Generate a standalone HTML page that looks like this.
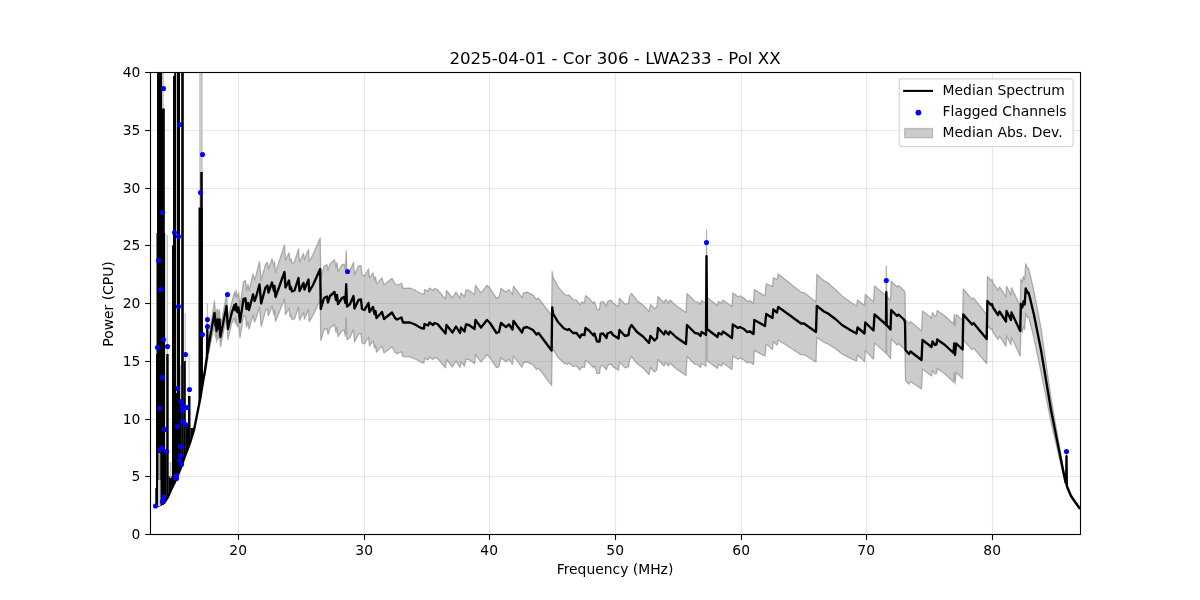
<!DOCTYPE html>
<html><head><meta charset="utf-8"><title>Spectrum</title>
<style>
html,body{margin:0;padding:0;background:#fff;}
body{width:1200px;height:600px;overflow:hidden;}
svg{display:block}
text{font-family:"DejaVu Sans","Liberation Sans",sans-serif;fill:#000}
.t{font-size:13.89px}
.ti{font-size:16.67px}
</style></head><body>
<svg width="1200" height="600" viewBox="0 0 1200 600">
<rect width="1200" height="600" fill="#fff"/>
<defs><clipPath id="c"><rect x="150" y="72" width="930" height="462"/></clipPath></defs>
<g stroke="#b0b0b0" stroke-opacity="0.3" stroke-width="1.11"><line x1="238.50" x2="238.50" y1="72" y2="534"/><line x1="364.50" x2="364.50" y1="72" y2="534"/><line x1="489.50" x2="489.50" y1="72" y2="534"/><line x1="615.50" x2="615.50" y1="72" y2="534"/><line x1="741.50" x2="741.50" y1="72" y2="534"/><line x1="866.50" x2="866.50" y1="72" y2="534"/><line x1="992.50" x2="992.50" y1="72" y2="534"/><line x1="150" x2="1080" y1="534.50" y2="534.50"/><line x1="150" x2="1080" y1="476.50" y2="476.50"/><line x1="150" x2="1080" y1="419.50" y2="419.50"/><line x1="150" x2="1080" y1="361.50" y2="361.50"/><line x1="150" x2="1080" y1="303.50" y2="303.50"/><line x1="150" x2="1080" y1="245.50" y2="245.50"/><line x1="150" x2="1080" y1="188.50" y2="188.50"/><line x1="150" x2="1080" y1="130.50" y2="130.50"/><line x1="150" x2="1080" y1="72.50" y2="72.50"/></g>
<g clip-path="url(#c)">
<clipPath id="bl"><polygon points="150.0,60.0 150.0,507.5 155.0,507.0 160.0,506.0 164.0,504.0 168.0,498.0 171.0,491.0 175.0,483.0 180.0,471.0 185.0,457.0 190.0,444.0 194.0,431.0 200.0,401.0 205.0,371.0 208.0,351.0 210.5,336.0 214.5,314.0 214.5,60.0"/></clipPath><rect x="162.0" y="60.0" width="1.8" height="48.5" fill="#c4c4c4"/><rect x="199.2" y="60.0" width="3.6" height="112.0" fill="#c8c8c8"/><rect x="199.2" y="172.0" width="1.0" height="35.5" fill="#c8c8c8"/><rect x="166.6" y="235.0" width="1.4" height="119.0" fill="#c0c0c0"/><rect x="184.6" y="313.0" width="1.2" height="48.0" fill="#c4c4c4"/><rect x="188.6" y="354.0" width="1.0" height="42.0" fill="#c4c4c4"/><rect x="176.0" y="60.0" width="1.0" height="340.0" fill="#bdbdbd"/><rect x="206.7" y="303.0" width="1.2" height="27.0" fill="#c0c0c0"/><rect x="180.0" y="365.0" width="1.2" height="35.0" fill="#bdbdbd"/><rect x="165.0" y="233.0" width="1.2" height="217.0" fill="#d8d8d8"/><polygon points="205.0,364.5 207.0,350.5 207.3,322.4 207.6,346.2 208.0,343.0 210.5,326.5 214.5,301.2 215.6,314.6 216.0,309.8 216.5,319.9 217.0,313.1 217.4,308.8 218.0,318.5 218.5,310.7 219.0,317.9 219.6,309.6 220.0,320.2 220.4,327.4 226.5,295.0 227.9,318.3 231.5,303.1 234.5,292.2 235.2,296.6 236.0,290.0 236.8,296.7 237.5,297.4 238.5,292.4 240.0,306.3 243.5,281.8 245.5,280.6 246.5,290.8 248.0,284.2 249.0,290.9 253.0,274.0 254.5,279.9 256.0,275.4 259.5,261.7 261.2,280.4 265.5,264.3 267.5,262.2 268.5,269.1 272.0,259.0 274.0,266.9 274.5,261.8 275.5,272.5 284.5,244.9 285.5,260.3 289.0,252.8 290.0,261.1 291.0,259.0 292.0,263.4 294.5,262.0 298.5,248.9 299.5,261.9 303.5,253.4 304.5,259.9 308.5,249.5 309.2,261.4 313.0,254.6 320.2,238.0 320.8,277.5 324.0,266.3 327.0,264.6 328.0,270.5 330.0,263.9 334.5,259.6 336.0,267.5 337.0,262.5 338.0,271.4 342.0,265.1 344.0,264.0 345.4,269.9 346.2,251.0 347.0,273.3 350.0,270.6 353.5,262.4 354.5,274.8 358.5,266.1 361.0,265.5 362.0,275.0 364.5,276.0 368.5,269.0 369.5,278.0 373.0,272.9 374.5,279.9 375.5,276.9 376.5,283.9 382.0,277.9 384.0,284.9 392.0,278.3 395.0,283.8 397.0,285.3 401.5,283.3 403.0,288.3 410.0,288.2 415.0,290.2 421.0,293.7 424.0,294.2 424.5,289.7 428.0,291.1 429.5,288.1 433.0,290.6 434.5,288.6 437.5,289.6 445.5,299.1 446.5,290.5 452.5,298.0 456.0,292.0 460.0,298.5 461.0,293.0 464.5,297.0 466.0,289.9 469.0,290.4 474.5,294.4 475.5,285.4 481.0,292.9 487.0,285.3 490.0,288.3 496.5,298.3 499.0,297.3 501.0,288.3 506.0,292.2 509.0,289.7 512.5,294.7 513.5,286.2 522.0,297.7 523.5,293.1 527.0,292.1 533.0,295.1 536.5,299.6 538.5,298.1 551.6,315.5 552.2,271.5 553.0,277.6 558.0,286.6 564.0,293.8 567.5,295.7 569.0,294.9 573.0,299.5 576.5,300.0 580.0,305.0 581.5,302.0 584.5,302.6 585.5,295.6 589.0,298.2 593.5,303.3 594.5,301.4 597.0,309.4 599.5,309.5 600.5,302.0 603.0,301.5 606.5,306.1 607.5,301.6 611.0,300.1 613.0,303.1 618.5,306.7 619.5,298.2 625.0,304.2 628.5,303.3 629.5,296.8 631.5,293.3 637.0,300.4 643.0,304.9 649.0,311.5 650.5,304.5 654.5,309.0 657.0,306.5 658.0,296.5 664.0,303.0 665.5,299.5 668.5,303.0 670.0,300.0 676.5,306.0 686.0,312.5 687.0,293.5 695.0,301.5 698.0,302.0 700.5,304.5 701.5,300.5 705.0,302.5 706.0,303.5 706.5,230.0 707.0,297.5 717.5,305.5 718.5,301.5 721.5,303.0 723.0,300.0 732.0,306.5 732.8,293.0 738.0,296.7 740.0,295.8 744.0,298.0 747.0,301.2 750.0,300.8 753.5,303.5 754.3,289.6 765.0,296.0 766.2,283.9 772.5,286.4 773.3,277.7 777.0,279.8 778.2,274.0 788.0,281.8 801.0,292.3 804.0,292.5 816.0,302.0 816.8,274.5 824.0,280.7 828.0,283.1 836.0,289.9 842.0,296.0 851.0,302.4 856.5,306.0 857.5,300.0 864.5,305.4 865.3,294.4 873.5,301.9 874.5,285.9 885.5,295.2 886.0,296.2 886.3,266.0 886.7,296.2 890.5,300.6 891.2,281.1 897.0,287.0 898.5,285.5 904.0,290.5 905.0,293.0 905.5,319.5 909.0,323.8 910.5,321.5 921.5,331.0 922.5,311.0 931.5,318.0 932.5,312.5 935.0,316.0 936.5,315.5 937.2,310.5 945.0,316.0 953.5,324.0 954.2,314.5 955.0,326.0 956.2,314.5 962.6,320.5 963.3,289.0 972.0,299.4 973.5,297.9 986.7,314.5 987.4,276.5 991.0,280.4 992.0,279.4 993.0,282.9 998.0,290.4 999.5,286.8 1006.0,296.8 1006.5,286.2 1011.0,295.2 1011.5,287.7 1020.2,306.1 1020.9,279.1 1022.3,282.5 1023.4,276.5 1024.7,279.5 1025.7,263.6 1027.5,268.5 1028.5,268.2 1030.0,274.0 1034.0,291.7 1041.0,328.0 1051.0,398.0 1063.0,466.5 1065.5,479.2 1066.2,480.4 1066.5,453.7 1066.8,482.6 1067.0,484.1 1071.0,494.7 1079.0,506.7 1081.0,508.2 1081.0,509.8 1079.0,508.3 1071.0,497.3 1067.0,488.9 1066.8,487.4 1066.5,458.7 1066.2,485.6 1065.5,484.8 1063.0,473.5 1051.0,422.0 1041.0,372.0 1034.0,338.3 1030.0,322.0 1028.5,316.8 1027.5,317.5 1025.7,313.4 1024.7,329.5 1023.4,326.5 1022.3,332.5 1020.9,328.9 1020.2,355.9 1011.5,337.3 1011.0,344.8 1006.5,335.8 1006.0,346.2 999.5,336.2 998.0,339.6 993.0,332.1 992.0,328.6 991.0,329.6 987.4,325.5 986.7,363.5 973.5,348.1 972.0,349.6 963.3,340.0 962.6,378.5 956.2,372.5 955.0,384.0 954.2,372.5 953.5,382.0 945.0,374.0 937.2,368.5 936.5,373.5 935.0,374.0 932.5,370.5 931.5,376.0 922.5,369.0 921.5,389.0 910.5,381.5 909.0,384.2 905.5,380.5 905.0,351.0 904.0,348.5 898.5,343.5 897.0,345.0 891.2,338.9 890.5,358.4 886.7,353.8 886.3,318.4 886.0,353.8 885.5,352.8 874.5,343.1 873.5,359.1 865.3,350.6 864.5,361.6 857.5,355.0 856.5,361.0 851.0,358.6 842.0,354.0 836.0,349.1 828.0,343.9 824.0,342.3 816.8,337.5 816.0,362.0 804.0,354.5 801.0,354.7 788.0,346.2 778.2,340.0 777.0,345.2 773.3,341.3 772.5,349.6 766.2,344.1 765.0,356.0 754.3,350.4 753.5,364.5 750.0,362.2 747.0,362.8 744.0,360.0 740.0,358.2 738.0,359.3 732.8,356.0 732.0,369.5 723.0,363.0 721.5,366.0 718.5,364.5 717.5,368.5 707.0,360.5 706.5,282.4 706.0,366.5 705.0,365.5 701.5,363.5 700.5,367.5 698.0,365.0 695.0,364.5 687.0,356.5 686.0,375.5 676.5,369.0 670.0,363.0 668.5,366.0 665.5,362.5 664.0,366.0 658.0,359.5 657.0,369.5 654.5,372.0 650.5,367.5 649.0,374.5 643.0,368.1 637.0,363.6 631.5,356.7 629.5,360.2 628.5,366.7 625.0,367.8 619.5,361.8 618.5,370.3 613.0,366.9 611.0,363.9 607.5,365.4 606.5,369.9 603.0,365.5 600.5,366.0 599.5,373.5 597.0,373.6 594.5,365.6 593.5,367.7 589.0,362.8 585.5,360.4 584.5,367.4 581.5,367.0 580.0,370.0 576.5,366.0 573.0,366.5 569.0,363.1 567.5,364.3 564.0,363.2 558.0,357.4 553.0,349.4 552.2,343.5 551.6,385.5 538.5,367.9 536.5,369.4 533.0,364.9 527.0,361.9 523.5,362.9 522.0,367.3 513.5,355.8 512.5,364.3 509.0,359.3 506.0,361.8 501.0,357.7 499.0,366.7 496.5,367.7 490.0,357.7 487.0,354.7 481.0,362.1 475.5,354.6 474.5,363.6 469.0,359.6 466.0,359.1 464.5,366.0 461.0,362.0 460.0,367.5 456.0,361.0 452.5,367.0 446.5,359.5 445.5,367.9 437.5,358.4 434.5,357.4 433.0,359.4 429.5,356.9 428.0,359.9 424.5,358.3 424.0,362.8 421.0,362.3 415.0,358.8 410.0,356.8 403.0,356.7 401.5,351.7 397.0,353.7 395.0,352.2 392.0,346.7 384.0,353.1 382.0,346.1 376.5,352.1 375.5,345.1 374.5,348.1 373.0,341.1 369.5,346.0 368.5,337.0 364.5,344.0 362.0,343.0 361.0,333.5 358.5,333.9 354.5,342.2 353.5,329.6 350.0,337.4 347.0,339.7 346.2,317.4 345.4,336.1 344.0,330.0 342.0,330.9 338.0,336.6 337.0,327.5 336.0,332.5 334.5,324.4 330.0,328.1 328.0,334.5 327.0,328.4 324.0,329.7 320.8,340.5 320.2,300.0 313.0,315.4 309.2,321.6 308.5,309.5 304.5,319.1 303.5,312.6 299.5,320.1 298.5,307.1 294.5,319.0 292.0,319.6 291.0,315.0 290.0,316.9 289.0,308.2 285.5,314.7 284.5,299.1 275.5,321.5 274.5,310.2 274.0,315.1 272.0,306.0 268.5,315.9 267.5,308.8 265.5,310.7 261.2,326.6 259.5,307.3 256.0,318.6 254.5,322.1 253.0,315.0 249.0,329.1 248.0,321.8 246.5,327.2 245.5,316.4 243.5,316.2 240.0,337.7 238.5,322.6 237.5,326.6 236.8,325.3 236.0,318.0 235.2,323.4 234.5,317.8 231.5,323.9 227.9,339.7 226.5,317.0 220.4,346.6 220.0,339.8 219.6,329.4 219.0,338.1 218.5,331.3 218.0,339.5 217.4,330.2 217.0,334.9 216.5,342.1 216.0,332.2 215.6,337.4 214.5,324.8 210.5,343.5 208.0,357.0 207.6,359.8 207.3,335.6 207.0,363.5 205.0,375.5" fill="#808080" fill-opacity="0.4" stroke="#808080" stroke-opacity="0.6" stroke-width="1.25" stroke-linejoin="round"/>
<g clip-path="url(#bl)" fill="#000"><rect x="157.0" y="60.0" width="5.0" height="480.0"/><rect x="157.0" y="108.5" width="7.8" height="431.5"/><rect x="155.3" y="488.0" width="1.7" height="52.0"/><rect x="156.5" y="233.0" width="8.5" height="307.0"/><rect x="156.0" y="354.0" width="9.0" height="186.0"/><rect x="165.0" y="450.0" width="1.3" height="90.0"/><rect x="166.2" y="354.0" width="2.5" height="186.0"/><rect x="168.6" y="476.0" width="3.5" height="64.0"/><rect x="174.2" y="60.0" width="1.8" height="480.0"/><rect x="173.0" y="76.0" width="3.0" height="464.0"/><rect x="172.0" y="245.5" width="4.0" height="294.5"/><rect x="177.0" y="60.0" width="3.0" height="480.0"/><rect x="181.2" y="60.0" width="2.6" height="480.0"/><rect x="183.7" y="361.0" width="2.1" height="179.0"/><rect x="175.9" y="393.0" width="1.2" height="147.0"/><rect x="179.9" y="400.0" width="1.4" height="140.0"/><rect x="185.7" y="425.0" width="2.4" height="115.0"/><rect x="188.0" y="396.0" width="2.5" height="144.0"/><rect x="190.4" y="428.0" width="6.6" height="112.0"/><rect x="200.2" y="172.0" width="2.6" height="368.0"/><rect x="198.5" y="207.5" width="4.3" height="332.5"/></g>
<polyline points="155.0,506.0 160.0,505.0 164.0,503.0 168.0,497.0 171.0,490.0 175.0,482.0 180.0,470.0 185.0,456.0 190.0,443.0 194.0,430.0 200.0,400.0 205.0,370.0 207.0,357.0 207.3,329.0 207.6,353.0 208.0,350.0 210.5,335.0 214.5,313.0 215.6,326.0 216.0,321.0 216.5,331.0 217.0,324.0 217.4,319.5 218.0,329.0 218.5,321.0 219.0,328.0 219.6,319.5 220.0,330.0 220.4,337.0 226.5,306.0 227.9,329.0 231.5,313.5 234.5,305.0 235.2,310.0 236.0,304.0 236.8,311.0 237.5,312.0 238.5,307.5 240.0,322.0 243.5,299.0 245.5,298.5 246.5,309.0 248.0,303.0 249.0,310.0 253.0,294.5 254.5,301.0 256.0,297.0 259.5,284.5 261.2,303.5 265.5,287.5 267.5,285.5 268.5,292.5 272.0,282.5 274.0,291.0 274.5,286.0 275.5,297.0 284.5,272.0 285.5,287.5 289.0,280.5 290.0,289.0 291.0,287.0 292.0,291.5 294.5,290.5 298.5,278.0 299.5,291.0 303.5,283.0 304.5,289.5 308.5,279.5 309.2,291.5 313.0,285.0 320.2,269.0 320.8,309.0 324.0,298.0 327.0,296.5 328.0,302.5 330.0,296.0 334.5,292.0 336.0,300.0 337.0,295.0 338.0,304.0 342.0,298.0 344.0,297.0 345.4,303.0 346.2,284.2 347.0,306.5 350.0,304.0 353.5,296.0 354.5,308.5 358.5,300.0 361.0,299.5 362.0,309.0 364.5,310.0 368.5,303.0 369.5,312.0 373.0,307.0 374.5,314.0 375.5,311.0 376.5,318.0 382.0,312.0 384.0,319.0 392.0,312.5 395.0,318.0 397.0,319.5 401.5,317.5 403.0,322.5 410.0,322.5 415.0,324.5 421.0,328.0 424.0,328.5 424.5,324.0 428.0,325.5 429.5,322.5 433.0,325.0 434.5,323.0 437.5,324.0 445.5,333.5 446.5,325.0 452.5,332.5 456.0,326.5 460.0,333.0 461.0,327.5 464.5,331.5 466.0,324.5 469.0,325.0 474.5,329.0 475.5,320.0 481.0,327.5 487.0,320.0 490.0,323.0 496.5,333.0 499.0,332.0 501.0,323.0 506.0,327.0 509.0,324.5 512.5,329.5 513.5,321.0 522.0,332.5 523.5,328.0 527.0,327.0 533.0,330.0 536.5,334.5 538.5,333.0 551.6,350.5 552.2,307.5 553.0,313.5 558.0,322.0 564.0,328.5 567.5,330.0 569.0,329.0 573.0,333.0 576.5,333.0 580.0,337.5 581.5,334.5 584.5,335.0 585.5,328.0 589.0,330.5 593.5,335.5 594.5,333.5 597.0,341.5 599.5,341.5 600.5,334.0 603.0,333.5 606.5,338.0 607.5,333.5 611.0,332.0 613.0,335.0 618.5,338.5 619.5,330.0 625.0,336.0 628.5,335.0 629.5,328.5 631.5,325.0 637.0,332.0 643.0,336.5 649.0,343.0 650.5,336.0 654.5,340.5 657.0,338.0 658.0,328.0 664.0,334.5 665.5,331.0 668.5,334.5 670.0,331.5 676.5,337.5 686.0,344.0 687.0,325.0 695.0,333.0 698.0,333.5 700.5,336.0 701.5,332.0 705.0,334.0 706.0,335.0 706.5,256.2 707.0,329.0 717.5,337.0 718.5,333.0 721.5,334.5 723.0,331.5 732.0,338.0 732.8,324.5 738.0,328.0 740.0,327.0 744.0,329.0 747.0,332.0 750.0,331.5 753.5,334.0 754.3,320.0 765.0,326.0 766.2,314.0 772.5,318.0 773.3,309.5 777.0,312.5 778.2,307.0 788.0,314.0 801.0,323.5 804.0,323.5 816.0,332.0 816.8,306.0 824.0,311.5 828.0,313.5 836.0,319.5 842.0,325.0 851.0,330.5 856.5,333.5 857.5,327.5 864.5,333.5 865.3,322.5 873.5,330.5 874.5,314.5 885.5,324.0 886.0,325.0 886.3,292.2 886.7,325.0 890.5,329.5 891.2,310.0 897.0,316.0 898.5,314.5 904.0,319.5 905.0,322.0 905.5,350.0 909.0,354.0 910.5,351.5 921.5,360.0 922.5,340.0 931.5,347.0 932.5,341.5 935.0,345.0 936.5,344.5 937.2,339.5 945.0,345.0 953.5,353.0 954.2,343.5 955.0,355.0 956.2,343.5 962.6,349.5 963.3,314.5 972.0,324.5 973.5,323.0 986.7,339.0 987.4,301.0 991.0,305.0 992.0,304.0 993.0,307.5 998.0,315.0 999.5,311.5 1006.0,321.5 1006.5,311.0 1011.0,320.0 1011.5,312.5 1020.2,331.0 1020.9,304.0 1022.3,307.5 1023.4,301.5 1024.7,304.5 1025.7,288.5 1027.5,293.0 1028.5,292.5 1030.0,298.0 1034.0,315.0 1041.0,350.0 1051.0,410.0 1063.0,470.0 1065.5,482.0 1066.2,483.0 1066.5,456.2 1066.8,485.0 1067.0,486.5 1071.0,496.0 1079.0,507.5 1081.0,509.0" fill="none" stroke="#000" stroke-width="2.35" stroke-linejoin="round" stroke-linecap="square"/>
<rect x="158.3" y="453.0" width="2.0" height="27.0" fill="#9a9a9a" clip-path="url(#bl)"/><rect x="158.0" y="480.0" width="2.5" height="28.0" fill="#d0d0d0" clip-path="url(#bl)"/><rect x="169.6" y="462.0" width="1.8" height="16.0" fill="#c0c0c0" clip-path="url(#bl)"/><circle cx="163.5" cy="88.5" r="2.55" fill="#0000ff"/><circle cx="179.5" cy="124.5" r="2.55" fill="#0000ff"/><circle cx="202.5" cy="154.5" r="2.55" fill="#0000ff"/><circle cx="200.5" cy="192.5" r="2.55" fill="#0000ff"/><circle cx="162.5" cy="212.5" r="2.55" fill="#0000ff"/><circle cx="174.5" cy="232.5" r="2.55" fill="#0000ff"/><circle cx="178.5" cy="236.5" r="2.55" fill="#0000ff"/><circle cx="158.5" cy="260.5" r="2.55" fill="#0000ff"/><circle cx="160.5" cy="289.5" r="2.55" fill="#0000ff"/><circle cx="178.5" cy="306.5" r="2.55" fill="#0000ff"/><circle cx="227.5" cy="294.5" r="2.55" fill="#0000ff"/><circle cx="207.5" cy="319.5" r="2.55" fill="#0000ff"/><circle cx="207.5" cy="326.5" r="2.55" fill="#0000ff"/><circle cx="202.5" cy="334.5" r="2.55" fill="#0000ff"/><circle cx="163.5" cy="339.5" r="2.55" fill="#0000ff"/><circle cx="167.5" cy="346.5" r="2.55" fill="#0000ff"/><circle cx="157.5" cy="347.5" r="2.55" fill="#0000ff"/><circle cx="185.5" cy="354.5" r="2.55" fill="#0000ff"/><circle cx="162.5" cy="377.5" r="2.55" fill="#0000ff"/><circle cx="177.5" cy="388.5" r="2.55" fill="#0000ff"/><circle cx="189.5" cy="389.5" r="2.55" fill="#0000ff"/><circle cx="181.0" cy="401.5" r="2.55" fill="#0000ff"/><circle cx="182.5" cy="406.5" r="2.55" fill="#0000ff"/><circle cx="187.5" cy="407.5" r="2.55" fill="#0000ff"/><circle cx="182.5" cy="410.5" r="2.55" fill="#0000ff"/><circle cx="159.5" cy="408.5" r="2.55" fill="#0000ff"/><circle cx="182.5" cy="421.5" r="2.55" fill="#0000ff"/><circle cx="185.5" cy="424.5" r="2.55" fill="#0000ff"/><circle cx="177.5" cy="426.5" r="2.55" fill="#0000ff"/><circle cx="164.5" cy="429.5" r="2.55" fill="#0000ff"/><circle cx="180.5" cy="446.5" r="2.55" fill="#0000ff"/><circle cx="160.0" cy="449.5" r="2.55" fill="#0000ff"/><circle cx="162.0" cy="448.0" r="2.55" fill="#0000ff"/><circle cx="166.5" cy="451.5" r="2.55" fill="#0000ff"/><circle cx="180.5" cy="455.5" r="2.55" fill="#0000ff"/><circle cx="179.5" cy="460.5" r="2.55" fill="#0000ff"/><circle cx="181.5" cy="464.5" r="2.55" fill="#0000ff"/><circle cx="176.5" cy="475.5" r="2.55" fill="#0000ff"/><circle cx="176.5" cy="478.5" r="2.55" fill="#0000ff"/><circle cx="155.5" cy="506.0" r="2.55" fill="#0000ff"/><circle cx="162.5" cy="501.5" r="2.55" fill="#0000ff"/><circle cx="164.0" cy="497.0" r="2.55" fill="#0000ff"/><circle cx="347.5" cy="271.5" r="2.55" fill="#0000ff"/><circle cx="706.5" cy="242.5" r="2.55" fill="#0000ff"/><circle cx="886.3" cy="280.5" r="2.55" fill="#0000ff"/><circle cx="1066.5" cy="451.5" r="2.55" fill="#0000ff"/>
</g>
<rect x="150.5" y="72.5" width="930" height="462" fill="none" stroke="#000" stroke-width="1.11"/>
<g stroke="#000" stroke-width="1.11"><line x1="238.50" x2="238.50" y1="535" y2="539.9"/><line x1="364.50" x2="364.50" y1="535" y2="539.9"/><line x1="489.50" x2="489.50" y1="535" y2="539.9"/><line x1="615.50" x2="615.50" y1="535" y2="539.9"/><line x1="741.50" x2="741.50" y1="535" y2="539.9"/><line x1="866.50" x2="866.50" y1="535" y2="539.9"/><line x1="992.50" x2="992.50" y1="535" y2="539.9"/><line x1="145.2" x2="150" y1="534.50" y2="534.50"/><line x1="145.2" x2="150" y1="476.50" y2="476.50"/><line x1="145.2" x2="150" y1="419.50" y2="419.50"/><line x1="145.2" x2="150" y1="361.50" y2="361.50"/><line x1="145.2" x2="150" y1="303.50" y2="303.50"/><line x1="145.2" x2="150" y1="245.50" y2="245.50"/><line x1="145.2" x2="150" y1="188.50" y2="188.50"/><line x1="145.2" x2="150" y1="130.50" y2="130.50"/><line x1="145.2" x2="150" y1="72.50" y2="72.50"/></g>
<text class="t" x="238.20" y="555.0" text-anchor="middle">20</text><text class="t" x="364.20" y="555.0" text-anchor="middle">30</text><text class="t" x="489.20" y="555.0" text-anchor="middle">40</text><text class="t" x="615.20" y="555.0" text-anchor="middle">50</text><text class="t" x="741.20" y="555.0" text-anchor="middle">60</text><text class="t" x="866.20" y="555.0" text-anchor="middle">70</text><text class="t" x="992.20" y="555.0" text-anchor="middle">80</text><text class="t" x="140.3" y="539.05" text-anchor="end">0</text><text class="t" x="140.3" y="481.30" text-anchor="end">5</text><text class="t" x="140.3" y="423.55" text-anchor="end">10</text><text class="t" x="140.3" y="365.80" text-anchor="end">15</text><text class="t" x="140.3" y="308.05" text-anchor="end">20</text><text class="t" x="140.3" y="250.30" text-anchor="end">25</text><text class="t" x="140.3" y="192.55" text-anchor="end">30</text><text class="t" x="140.3" y="134.80" text-anchor="end">35</text><text class="t" x="140.3" y="77.05" text-anchor="end">40</text>
<text class="t" x="615" y="573.5" text-anchor="middle">Frequency (MHz)</text>
<text class="t" transform="translate(112.5,304) rotate(-90)" text-anchor="middle">Power (CPU)</text>
<text class="ti" x="615" y="63.7" text-anchor="middle">2025-04-01 - Cor 306 - LWA233 - Pol XX</text>
<rect x="899.2" y="78.9" width="173.9" height="67.7" rx="2.8" ry="2.8" fill="#fff" fill-opacity="0.8" stroke="#ccc" stroke-opacity="0.8" stroke-width="1.11"/>
<line x1="903.1" x2="933.0" y1="90.9" y2="90.9" stroke="#000" stroke-width="2.08"/>
<circle cx="918.4" cy="112.6" r="2.9" fill="#0000ff"/>
<rect x="904.7" y="128.5" width="27.8" height="9.2" fill="#808080" fill-opacity="0.4" stroke="#808080" stroke-opacity="0.4" stroke-width="1.39"/>
<text class="t" x="942.6" y="94.6">Median Spectrum</text>
<text class="t" x="942.6" y="116.4">Flagged Channels</text>
<text class="t" x="942.6" y="136.6">Median Abs. Dev.</text>
</svg></body></html>
